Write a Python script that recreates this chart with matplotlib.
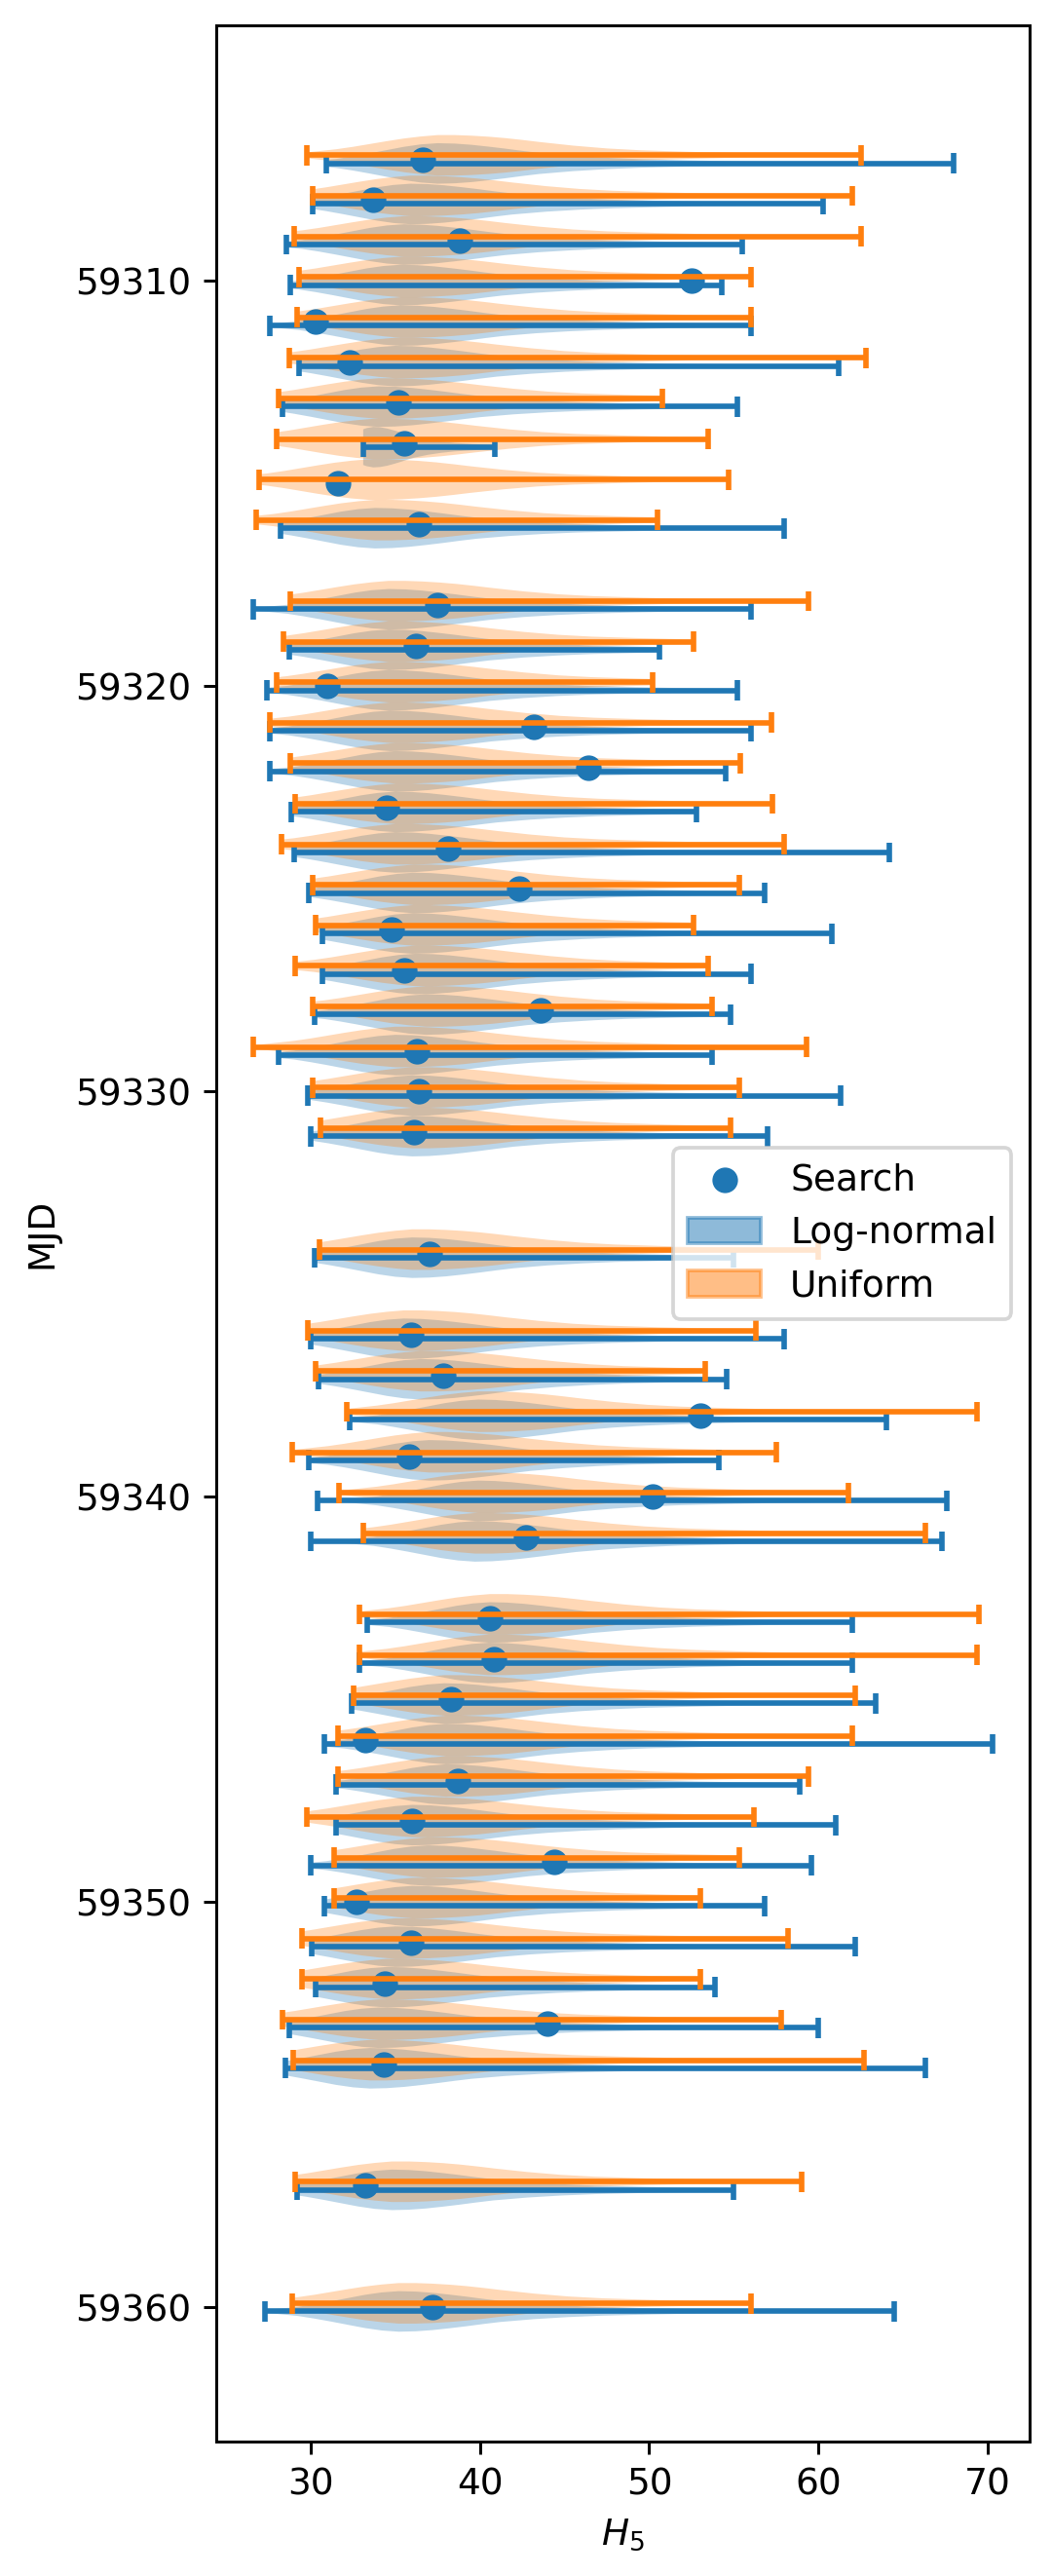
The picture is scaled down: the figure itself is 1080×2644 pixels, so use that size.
import numpy as np
import matplotlib
matplotlib.use("Agg")
import matplotlib.pyplot as plt
import matplotlib.patches as mpatches

# observing days
mjd = [59307, 59308, 59309, 59310, 59311, 59312, 59313, 59314, 59315, 59316,
       59318, 59319, 59320, 59321, 59322, 59323, 59324, 59325, 59326, 59327,
       59328, 59329, 59330, 59331,
       59334, 59336, 59337, 59338, 59339, 59340, 59341,
       59343, 59344, 59345, 59346, 59347, 59348, 59349, 59350, 59351, 59352,
       59353, 59354,
       59357, 59360]

# search result per day
search = [36.6, 33.7, 38.8, 52.5, 30.3, 32.3, 35.2, 35.5, 31.6, 36.4,
          37.5, 36.2, 31.0, 43.2, 46.4, 34.5, 38.1, 42.3, 34.8, 35.5,
          43.6, 36.3, 36.4, 36.1,
          37.0, 35.9, 37.8, 53.0, 35.8, 50.2, 42.7,
          40.6, 40.8, 38.3, 33.2, 38.7, 36.0, 44.4, 32.7, 35.9, 34.4,
          44.0, 34.3,
          33.2, 37.2]

# log-normal posterior range (None = no samples)
ln_min = [30.9, 30.1, 28.55, 28.8, 27.6, 29.3, 28.3, 33.1, None, 28.2,
          26.6, 28.75, 27.4, 27.55, 27.6, 28.85, 29.0, 29.9, 30.7, 30.7,
          30.2, 28.1, 29.85, 30.0,
          30.2, 30.0, 30.45, 32.3, 29.9, 30.4, 30.0,
          33.35, 32.85, 32.4, 30.8, 31.5, 31.5, 30.0, 30.8, 30.05, 30.3,
          28.75, 28.5,
          29.2, 27.3]
ln_max = [68.0, 60.3, 55.5, 54.3, 56.0, 61.2, 55.2, 40.9, None, 58.0,
          56.0, 50.6, 55.2, 56.0, 54.5, 52.8, 64.2, 56.8, 60.8, 56.0,
          54.8, 53.7, 61.3, 57.0,
          55.0, 58.0, 54.6, 64.0, 54.1, 67.6, 67.3,
          62.0, 62.0, 63.4, 70.3, 58.9, 61.0, 59.6, 56.8, 62.2, 53.9,
          60.0, 66.3,
          55.0, 64.5]

# uniform posterior range
un_min = [29.75, 30.1, 29.0, 29.3, 29.2, 28.75, 28.1, 28.0, 26.95, 26.75,
          28.8, 28.4, 28.0, 27.55, 28.8, 29.05, 28.25, 30.1, 30.3, 29.05,
          30.1, 26.6, 30.1, 30.6,
          30.5, 29.8, 30.3, 32.15, 28.9, 31.65, 33.1,
          32.9, 32.9, 32.55, 31.6, 31.6, 29.75, 31.35, 31.4, 29.45, 29.45,
          28.3, 28.95,
          29.1, 28.9]
un_max = [62.5, 62.0, 62.5, 56.0, 56.0, 62.8, 50.8, 53.5, 54.7, 50.5,
          59.4, 52.6, 50.2, 57.2, 55.4, 57.3, 58.0, 55.3, 52.6, 53.5,
          53.7, 59.3, 55.3, 54.8,
          60.0, 56.3, 53.3, 69.4, 57.5, 61.8, 66.3,
          69.5, 69.4, 62.2, 62.0, 59.4, 56.2, 55.3, 53.0, 58.2, 53.0,
          57.8, 62.7,
          59.0, 56.0]

# where the violins peak
peak = [37.5, 35.9, 35.5, 35.3, 35.3, 35.0, 34.0, 33.7, 33.4, 33.8,
        34.6, 34.6, 34.6, 34.7, 35.0, 35.0, 35.0, 36.1, 36.0, 36.2,
        36.8, 35.0, 36.0, 36.0,
        36.0, 35.5, 36.5, 39.9, 37.0, 39.9, 39.7,
        40.6, 40.5, 37.9, 38.0, 38.0, 36.0, 36.9, 36.0, 35.0, 34.5,
        34.0, 33.5,
        34.8, 35.2]

# violin outline (relative density vs distance from the peak)
shape_dh = [-10, -8, -6, -5, -4, -3, -2, -1, 0, 1, 2, 3, 4, 5, 6, 8, 10, 12, 15, 18, 22, 27, 33, 40]
ln_shape = [0.0, 0.06, 0.22, 0.35, 0.5, 0.66, 0.82, 0.94, 1.0, 0.98, 0.92, 0.83, 0.73, 0.62,
            0.52, 0.38, 0.28, 0.21, 0.15, 0.1, 0.06, 0.035, 0.02, 0.01]
un_shape = [0.02, 0.12, 0.3, 0.42, 0.56, 0.7, 0.83, 0.93, 1.0, 1.0, 0.97, 0.92, 0.85, 0.76,
            0.66, 0.48, 0.34, 0.25, 0.17, 0.11, 0.07, 0.04, 0.02, 0.01]
narrow = {59314: 0.4}


def make_stats(lo, hi, pk, prof, squeeze=1.0):
    dh = np.array(shape_dh) * squeeze
    x = np.concatenate([[lo], pk + dh[(pk + dh > lo) & (pk + dh < hi)], [hi]])
    # finer sampling so the outline looks smooth
    x = np.unique(np.concatenate([x, np.linspace(lo, hi, 200)]))
    v = np.interp(x, pk + dh, prof)
    return dict(coords=x, vals=v, mean=pk, median=pk, min=lo, max=hi)


def style(parts, c):
    for b in parts['bodies']:
        b.set_facecolor(c)
        b.set_edgecolor('none')
        b.set_alpha(0.3)
    for k in ('cbars', 'cmins', 'cmaxes'):
        parts[k].set_color(c)


dpi = 270
fig = plt.figure(figsize=(1080 / dpi, 2644 / dpi))
ax = fig.add_axes([0.2056, 0.0522, 0.7731, 0.938])

sc = ax.scatter(search, mjd, color='C0', zorder=2)

ln_stats, ln_pos = [], []
for d, lo, hi, pk in zip(mjd, ln_min, ln_max, peak):
    if lo is None:
        continue
    ln_stats.append(make_stats(lo, hi, pk, ln_shape, narrow.get(d, 1.0)))
    ln_pos.append(d + 0.1)
p1 = ax.violin(ln_stats, positions=ln_pos, orientation='horizontal', widths=1.0)
style(p1, 'C0')

un_stats = [make_stats(lo, hi, pk, un_shape) for lo, hi, pk in zip(un_min, un_max, peak)]
p2 = ax.violin(un_stats, positions=[d - 0.1 for d in mjd], orientation='horizontal', widths=1.0)
style(p2, 'C1')

ax.invert_yaxis()
ax.set_xlabel('$H_5$')
ax.set_ylabel('MJD')

handles = [sc, mpatches.Patch(color='C0', alpha=0.5), mpatches.Patch(color='C1', alpha=0.5)]
ax.legend(handles, ['Search', 'Log-normal', 'Uniform'], loc='center right')

fig.savefig('out.png', dpi=dpi)
